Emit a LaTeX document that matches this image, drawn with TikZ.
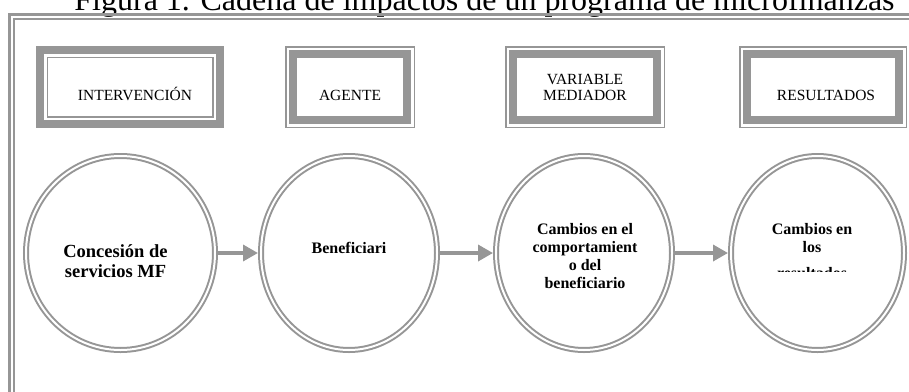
\documentclass[tikz,border=0pt]{standalone}
\usepackage{fontspec}
\setmainfont{Liberation Serif}
\usepackage{tikz}
\usetikzlibrary{positioning,shapes.geometric,arrows.meta}
\definecolor{gris}{RGB}{150,150,150}

\begin{document}
\begin{tikzpicture}[x=1pt, y=-1pt, >={Triangle[length=15pt,width=16pt]}]
    \tikzstyle{marco} = [draw=gris, line width=3pt]
    \tikzstyle{banda} = [draw=gris, line width=8pt, rectangle, inner sep=0pt, outer sep=0pt, minimum height=66pt]
    \tikzstyle{filete} = [draw=gris, line width=1.5pt]
    \tikzstyle{etapa} = [draw=gris, line width=2pt, double=white, double distance=2pt, ellipse, minimum height=194pt, minimum width=176pt, outer sep=3pt]
    \tikzstyle{rotulo} = [font=\fontsize{15.5}{16.7}\selectfont, inner sep=0pt, align=center]
    \tikzstyle{texto} = [font=\bfseries\fontsize{16}{18}\selectfont, inner sep=0pt, align=center]
    \tikzstyle{arrow} = [->, draw=gris, line width=3.5pt]

    \useasboundingbox (0,0) rectangle (909,391);
    \clip (0,0) rectangle (909,391);

    \node[anchor=base, font=\fontsize{32}{38}\selectfont, inner sep=0pt] (titulo) at (484.5,10) {Figura 1. Cadena de impactos de un programa de microfinanzas};
    \draw[marco] (9.5,14) rectangle (1000,500);
    \draw[draw=gris, line width=2pt] (14.3,19.3) rectangle (1000,500);

    \node[banda, minimum width=180pt, minimum height=74pt] (interv) at (130,87) {};
    \node[banda, minimum width=114pt] (agente) at (350,87) {};
    \node[banda, minimum width=144pt] (mediador) at (585,87) {};
    \node[banda, minimum width=152pt] (result) at (823,87) {};
    \draw[filete] ([shift={(7.25,7.25)}]interv.north west) rectangle ([shift={(-7.25,-7.25)}]interv.south east);
    \draw[filete] ([shift={(-7.25,-7.25)}]agente.north west) rectangle ([shift={(7.25,7.25)}]agente.south east);
    \draw[filete] ([shift={(-7.25,-7.25)}]mediador.north west) rectangle ([shift={(7.25,7.25)}]mediador.south east);
    \draw[filete] ([shift={(-7.25,-7.25)}]result.north west) rectangle ([shift={(7.25,7.25)}]result.south east);

    \node[rotulo, anchor=base] (tInterv) at (135,100.7) {INTERVENCIÓN};
    \node[rotulo, anchor=base] (tAgente) at (350,100.7) {AGENTE};
    \node[rotulo, anchor=north] (tMediador) at (585,73.7) {VARIABLE\\MEDIADOR};
    \node[rotulo, anchor=base] (tResult) at (826,100.7) {RESULTADOS};

    \node[etapa, minimum width=189pt] (concesion) at (120.5,253) {};
    \node[etapa] (beneficiario) at (349,253) {};
    \node[etapa] (cambio) at (584,253) {};
    \node[etapa, minimum width=173pt] (resultado) at (817.5,253) {};

    \node[texto, font=\bfseries\fontsize{18.5}{20}\selectfont, anchor=north] (tConcesion) at (115.5,244) {Concesión de\\servicios MF};
    \node[texto, anchor=base] (tBenef) at (349,253.3) {Beneficiari};
    \node[texto, anchor=north] (tCambio) at (585,223.2) {Cambios en el\\comportamient\\o del\\beneficiario};
    \node[texto, anchor=north] (tResultado) at (812,223.2) {Cambios en\\los};
    \begin{scope}
        \clip (760,256) rectangle (870,271.5);
        \node[texto, anchor=base] (tCortado) at (812,278.5) {resultados};
    \end{scope}

    \draw[arrow] (concesion) -- (beneficiario);
    \draw[arrow] (beneficiario) -- (cambio);
    \draw[arrow] (cambio) -- (resultado);
\end{tikzpicture}
\end{document}
